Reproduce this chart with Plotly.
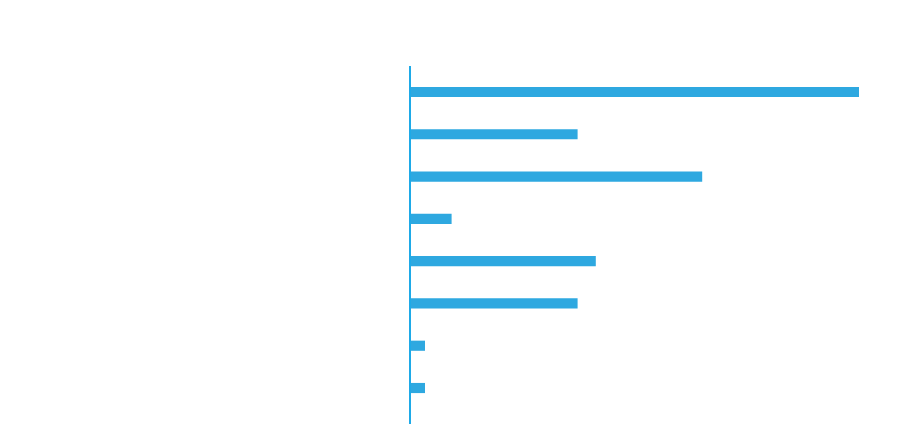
import plotly.graph_objects as go

categories = ["c1", "c2", "c3", "c4", "c5", "c6", "c7", "c8"]
values = [32, 11.9, 20.8, 2.9, 13.2, 11.9, 1, 1]

fig = go.Figure(go.Bar(
    x=values,
    y=categories,
    orientation="h",
    marker=dict(color="#2EA8E0", line=dict(width=0)),
    width=0.24,
    hoverinfo="x",
))

fig.update_layout(
    width=913,
    height=424,
    margin=dict(l=411, r=54, t=66, b=0),
    paper_bgcolor="white",
    plot_bgcolor="white",
    showlegend=False,
    xaxis=dict(range=[0, 32], showgrid=False, zeroline=False, showticklabels=False,
               showline=False, ticks=""),
    yaxis=dict(type="category", categoryorder="array", categoryarray=categories,
               range=[7.851, -0.615], showgrid=False, zeroline=False,
               showticklabels=False, ticks="", showline=True,
               linecolor="#1EAAE8", linewidth=2),
)

fig.write_html("out.html")
